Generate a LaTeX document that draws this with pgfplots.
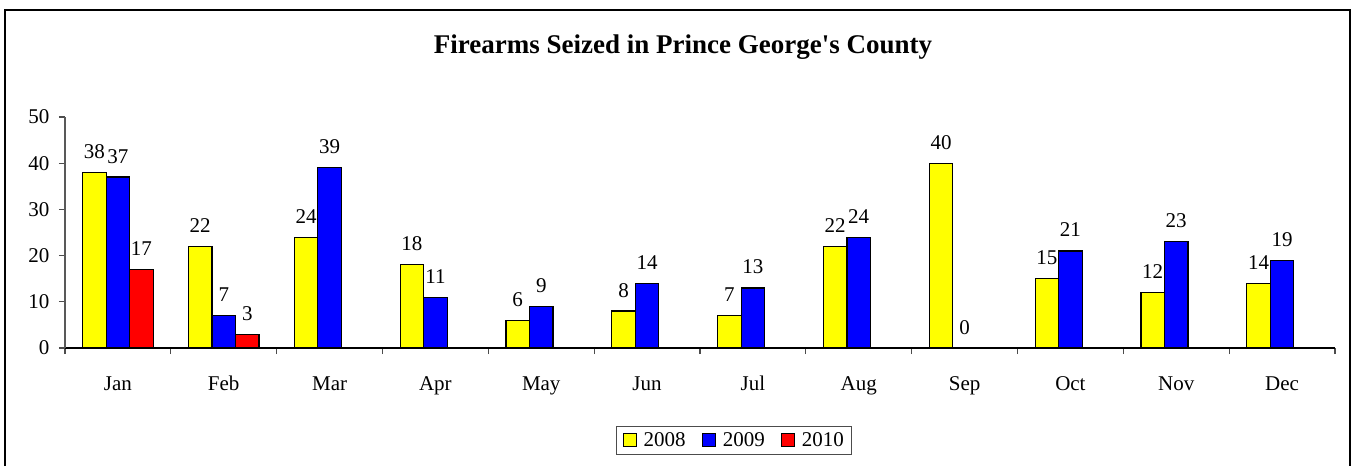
\documentclass[border=0pt]{standalone}
\usepackage{fontspec}
\setmainfont{Liberation Serif}
\usepackage{pgfplots}
\pgfplotsset{compat=1.18}
\pgfkeys{/pgf/number format/assume math mode=true}
\definecolor{xyellow}{RGB}{255,255,0}
\definecolor{xblue}{RGB}{0,0,255}
\definecolor{xred}{RGB}{255,0,0}
\newcommand{\lblfont}{\fontsize{21}{23}\selectfont}
\begin{document}
\begin{tikzpicture}[x=1pt,y=1pt]
\useasboundingbox (0,0) rectangle (1352,466);
\draw[line width=1.3pt,black] (5,0) -- (5,456) -- (1350,456) -- (1350,0);
\node[font=\fontsize{27}{29}\selectfont\bfseries, anchor=base] at (683,412) {Firearms Seized in Prince George\textquotesingle s County};
\begin{axis}[
  at={(65pt,118pt)}, anchor=south west,
  scale only axis, width=1270pt, height=231pt,
  xmin=0, xmax=12, ymin=0, ymax=50,
  clip=false,
  axis x line=bottom, axis y line=left,
  axis line style={-},
  x axis line style={draw=black, line width=1.1pt, -},
  y axis line style={draw=gray!70!black, line width=1.1pt, -},
  tick align=outside,
  major tick length=6pt,
  tick style={line width=1.1pt, draw=gray!60!black},
  ytick={0,10,20,30,40,50},
  yticklabel style={font=\lblfont, xshift=-6pt},
  xtick={0,1,2,3,4,5,6,7,8,9,10,11,12},
  xticklabels={},
  extra x ticks={0.5,1.5,2.5,3.5,4.5,5.5,6.5,7.5,8.5,9.5,10.5,11.5},
  extra x tick labels={Jan,Feb,Mar,Apr,May,Jun,Jul,Aug,Sep,Oct,Nov,Dec},
  extra x tick style={major tick length=0pt, tick style={draw=none},
     xticklabel style={font=\lblfont, anchor=base, yshift=-42pt}},
  ybar=0pt, bar width=23.5pt,
  nodes near coords,
  every node near coord/.append style={font=\lblfont, anchor=base, yshift=14pt, black},
  legend image code/.code={\draw[#1, line width=1.1pt] (0pt,-6pt) rectangle (13pt,7pt);},
  legend style={at={(rel axis cs:0.527,-0.40)}, anchor=center, legend columns=3,
     draw=gray!60!black, line width=0.9pt, font=\lblfont,
     /tikz/every odd column/.append style={column sep=5pt},
     /tikz/every even column/.append style={column sep=14pt},
     inner xsep=6pt, inner ysep=4pt},
]
\addplot[fill=xyellow, draw=black, line width=1.2pt] coordinates {
 (0.5,38) (1.5,22) (2.5,24) (3.5,18) (4.5,6) (5.5,8) (6.5,7) (7.5,22) (8.5,40) (9.5,15) (10.5,12) (11.5,14)};
\addplot[fill=xblue, draw=black, line width=1.2pt] coordinates {
 (0.5,37) (1.5,7) (2.5,39) (3.5,11) (4.5,9) (5.5,14) (6.5,13) (7.5,24) (8.5,0) (9.5,21) (10.5,23) (11.5,19)};
\addplot[fill=xred, draw=black, line width=1.2pt] coordinates {
 (0.5,17) (1.5,3)};
\legend{2008,2009,2010}
\end{axis}
\end{tikzpicture}
\end{document}
